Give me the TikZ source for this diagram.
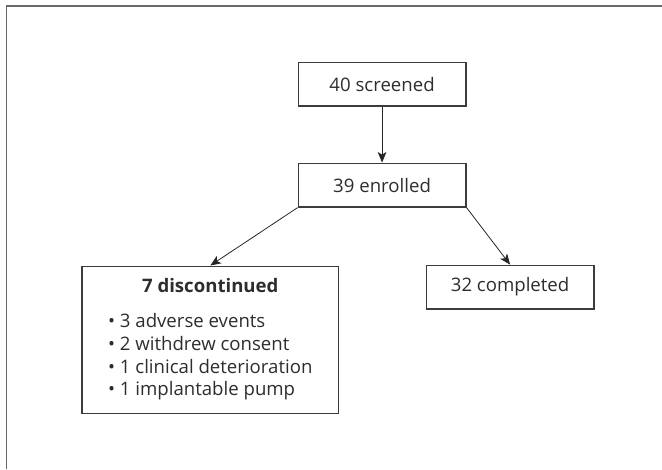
\documentclass[tikz,border=0pt]{standalone}
\usepackage{fontspec}
\setmainfont{Open Sans}
\definecolor{framegray}{RGB}{105, 105, 105}
\definecolor{boxgray}{RGB}{60, 60, 60}
\definecolor{textgray}{RGB}{45, 45, 45}
\usetikzlibrary{arrows.meta, positioning}

\begin{document}
\begin{tikzpicture}[
  flowbox/.style={draw=boxgray, line width=0.9pt, minimum width=4.44cm, minimum height=1.16cm, inner sep=0pt, text=textgray, font=\fontsize{14}{17}\selectfont},
  flowarrow/.style={draw=black!85, line width=0.6pt, -{Stealth[length=8pt, width=6.5pt, inset=2pt]}}
]
  \useasboundingbox (0, 0) rectangle (17.51, 12.41);

  % Outer frame (cut at right and bottom)
  \draw[framegray, line width=1.5pt] (0.172, 0) -- (0.172, 12.26) -- (17.51, 12.26);

  % Main column
  \node[flowbox] (screened) at (10.106, 10.185) {40 screened};
  \node[flowbox] (enrolled) at (10.106, 7.513) {39 enrolled};

  % Outcomes
  \node[flowbox, minimum width=6.786cm, minimum height=3.889cm] (discontinued) at (5.562, 3.426) {%
    \begin{tabular}{@{}c@{}}
      \textbf{7 discontinued}\\[9.5pt]
      \begin{tabular}{@{}l@{}}
        \textbullet\ 3 adverse events\\
        \textbullet\ 2 withdrew consent\\
        \textbullet\ 1 clinical deterioration\\
        \textbullet\ 1 implantable pump
      \end{tabular}
    \end{tabular}};
  \node[flowbox] (completed) at (13.492, 4.815) {32 completed};

  % Arrows
  \draw[flowarrow] (screened) -- (enrolled);
  \draw[flowarrow] (enrolled.south west) -- (discontinued.north);
  \draw[flowarrow] (enrolled.south east) -- (completed.north);
\end{tikzpicture}
\end{document}
